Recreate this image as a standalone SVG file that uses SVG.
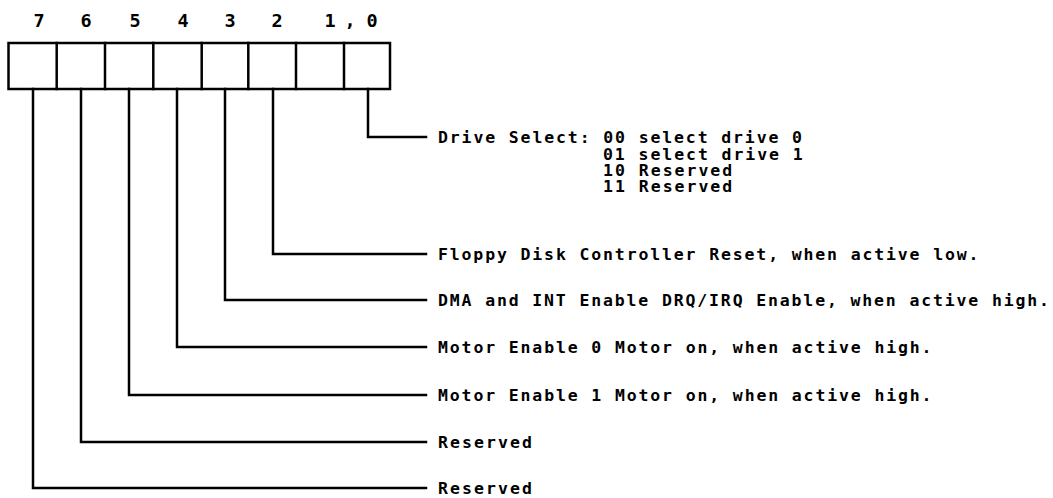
<svg xmlns="http://www.w3.org/2000/svg" width="1053" height="498" viewBox="0 0 1053 498">
<style>
.ln{fill:none;stroke:#000;stroke-width:2.5;stroke-linecap:square}
.t{font-family:"DejaVu Sans Mono",monospace;font-weight:bold;font-size:16.5px;fill:#000}
.h{font-family:"DejaVu Sans Mono",monospace;font-weight:bold;font-size:18.5px;fill:#000;text-anchor:middle}
</style>
<rect width="1053" height="498" fill="#fff"/>
<g id="header">
<text class="h" x="39" y="27">7</text>
<text class="h" x="86" y="27">6</text>
<text class="h" x="135" y="27">5</text>
<text class="h" x="183" y="27">4</text>
<text class="h" x="230" y="27">3</text>
<text class="h" x="277" y="27">2</text>
<text class="h" x="330" y="27">1</text>
<text class="h" x="350" y="27">,</text>
<text class="h" x="372" y="27">0</text>
</g>
<g id="register">
<rect class="ln" x="8.5" y="43" width="381.5" height="46"/>
<path class="ln" d="M56.7 43V89M105 43V89M153.3 43V89M201.7 43V89M248.3 43V89M296 43V89M344 43V89"/>
</g>
<g id="connectors">
<path class="ln" d="M368 89V137H426"/>
<path class="ln" d="M273 89V254H426"/>
<path class="ln" d="M225 89V300H426"/>
<path class="ln" d="M177 89V347H426"/>
<path class="ln" d="M129 89V395H426"/>
<path class="ln" d="M81 89V442H426"/>
<path class="ln" d="M33 89V488H426"/>
</g>
<g id="bits10">
<text class="t" x="438" y="143.3" textLength="364" lengthAdjust="spacing">Drive Select: 00 select drive 0</text>
<text class="t" x="603" y="159.8" textLength="199.7" lengthAdjust="spacing">01 select drive 1</text>
<text class="t" x="603" y="176" textLength="129.2" lengthAdjust="spacing">10 Reserved</text>
<text class="t" x="603" y="192.2" textLength="129.2" lengthAdjust="spacing">11 Reserved</text>
</g>
<g id="bit2"><text class="t" x="438" y="260.3" textLength="540.5" lengthAdjust="spacing">Floppy Disk Controller Reset, when active low.</text></g>
<g id="bit3"><text class="t" x="438" y="306.3" textLength="611" lengthAdjust="spacing">DMA and INT Enable DRQ/IRQ Enable, when active high.</text></g>
<g id="bit4"><text class="t" x="438" y="353.3" textLength="493.5" lengthAdjust="spacing">Motor Enable 0 Motor on, when active high.</text></g>
<g id="bit5"><text class="t" x="438" y="401.3" textLength="493.5" lengthAdjust="spacing">Motor Enable 1 Motor on, when active high.</text></g>
<g id="bit6"><text class="t" x="438" y="448.3" textLength="94" lengthAdjust="spacing">Reserved</text></g>
<g id="bit7"><text class="t" x="438" y="494" textLength="94" lengthAdjust="spacing">Reserved</text></g>
</svg>
